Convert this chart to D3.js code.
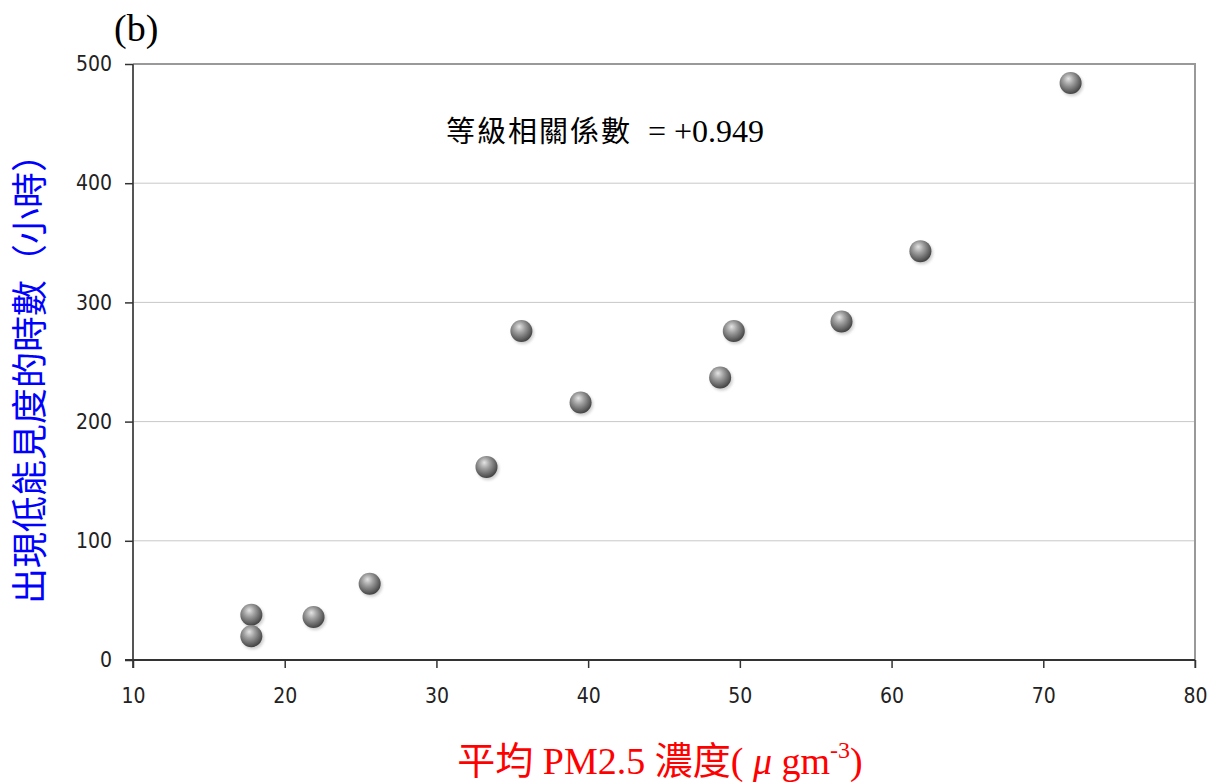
<!DOCTYPE html>
<html><head><meta charset="utf-8">
<script src="https://cdn.jsdelivr.net/npm/d3@7"></script>
<style>body{margin:0;background:#fff}svg{display:block}</style>
</head><body>
<svg id="c" width="1214" height="782"></svg>
<script>
const pm25 = [17.8, 17.8, 21.9, 25.6, 33.3, 35.6, 39.5, 48.7, 49.6, 56.7, 61.9, 71.8];
const hours = [38, 20, 36, 64, 162, 276, 216, 237, 276, 284, 343, 484];
const xTicks = [10, 20, 30, 40, 50, 60, 70, 80];
const yTicks = [0, 100, 200, 300, 400, 500];
const panelLabel = "(b)";
const annotationA = "等級相關係數";
const annotationB = "  = +0.949";
const xTitle = "平均 PM2.5 濃度(";
const yTitle = "出現低能見度的時數（小時）";

const svg = d3.select("#c");
const L = 133, R = 1195, T = 64, B = 660;
const x = d3.scaleLinear().domain([10, 80]).range([L, R]);
const y = d3.scaleLinear().domain([0, 500]).range([B, T]);

const defs = svg.append("defs");
const g = defs.append("radialGradient").attr("id", "ball").attr("cx", "42%").attr("cy", "38%").attr("r", "62%").attr("fx", "40%").attr("fy", "30%");
g.append("stop").attr("offset", "0%").attr("stop-color", "#e4e4e4");
g.append("stop").attr("offset", "40%").attr("stop-color", "#a0a0a0");
g.append("stop").attr("offset", "85%").attr("stop-color", "#5c5c5c");
g.append("stop").attr("offset", "100%").attr("stop-color", "#444");
const sh = defs.append("filter").attr("id", "sh").attr("x", "-50%").attr("y", "-50%").attr("width", "200%").attr("height", "200%");
sh.append("feGaussianBlur").attr("stdDeviation", 1.5);

// gridlines
svg.append("g").selectAll("line").data(yTicks.filter(d => d > 0)).join("line")
  .attr("x1", L).attr("x2", R).attr("y1", d => y(d)).attr("y2", d => y(d))
  .attr("stroke", d => d === 500 ? "#999" : "#c8c8c8").attr("stroke-width", d => d === 500 ? 2 : 1);
// right border
svg.append("line").attr("x1", R).attr("x2", R).attr("y1", T - 1).attr("y2", B + 8)
  .attr("stroke", "#999").attr("stroke-width", 2);

const tickFont = "'Liberation Sans Narrow','Arial Narrow','DejaVu Sans Condensed',sans-serif";
// y axis
const ya = svg.append("g").attr("transform", `translate(${L},0)`)
  .call(d3.axisLeft(y).tickValues(yTicks).tickSize(8).tickPadding(13).tickSizeOuter(0));
ya.select(".domain").attr("stroke", "#555").attr("stroke-width", 2).attr("d", `M0,${T}V${B + 8}`);
ya.selectAll(".tick line").attr("stroke", "#333").attr("stroke-width", 1.5);
ya.selectAll("text").attr("font-family", tickFont).attr("font-size", 21).attr("fill", "#222");
// x axis
const xa = svg.append("g").attr("transform", `translate(0,${B})`)
  .call(d3.axisBottom(x).tickValues(xTicks).tickSize(8).tickPadding(20).tickSizeOuter(0));
xa.select(".domain").attr("stroke", "#333").attr("stroke-width", 2).attr("d", `M${L - 8},0H${R}`);
xa.selectAll(".tick line").attr("stroke", "#333").attr("stroke-width", 1.5);
xa.selectAll("text").attr("font-family", tickFont).attr("font-size", 21).attr("fill", "#222");

// points
const pts = pm25.map((v, i) => ({ x: v, y: hours[i] }));
svg.append("g").selectAll("circle.s").data(pts).join("circle")
  .attr("cx", d => x(d.x) + 1.5).attr("cy", d => y(d.y) + 2).attr("r", 11)
  .attr("fill", "#000").attr("opacity", 0.2).attr("filter", "url(#sh)");
svg.append("g").selectAll("circle.p").data(pts).join("circle")
  .attr("cx", d => x(d.x)).attr("cy", d => y(d.y)).attr("r", 11)
  .attr("fill", "url(#ball)");

// texts
svg.append("text").attr("x", 114).attr("y", 41).text(panelLabel)
  .attr("font-family", "'Liberation Serif','Times New Roman',serif").attr("font-size", 38).attr("fill", "#000");
const an = svg.append("text").attr("x", 446).attr("y", 142)
  .attr("font-family", "'Liberation Serif','Noto Sans CJK TC',serif").attr("font-size", 30).attr("fill", "#000")
  .style("white-space", "pre");
an.append("tspan").text(annotationA).attr("font-family", "'Noto Sans CJK TC',sans-serif").attr("font-size", 29).attr("letter-spacing", 2);
an.append("tspan").text(annotationB).attr("font-size", 32);

const xt = svg.append("text").attr("x", 660).attr("y", 774).attr("text-anchor", "middle")
  .attr("font-family", "'Liberation Serif','Noto Sans CJK TC',serif").attr("font-size", 38).attr("fill", "#ff0000")
  .style("white-space", "pre");
xt.append("tspan").text(xTitle);
xt.append("tspan").text(" μ ").attr("font-style", "italic");
xt.append("tspan").text("gm");
xt.append("tspan").text("-3").attr("font-size", 24).attr("dy", -16);
xt.append("tspan").text(")").attr("dy", 16);

svg.append("text").attr("transform", "translate(43,370) rotate(-90)").attr("text-anchor", "middle")
  .text(yTitle).attr("font-family", "'Noto Sans CJK TC',sans-serif").attr("font-size", 36).attr("fill", "#0000ff");
</script>
</body></html>
